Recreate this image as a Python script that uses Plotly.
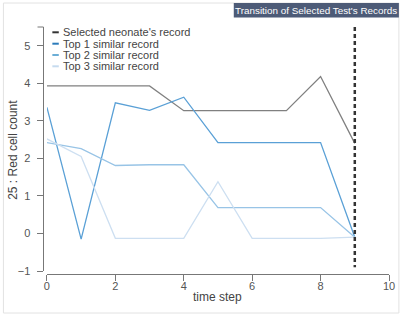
import plotly.graph_objects as go

# ---- data ----
steps = [0, 1, 2, 3, 4, 5, 6, 7, 8, 9]
selected = [3.93, 3.93, 3.93, 3.93, 3.27, 3.27, 3.27, 3.27, 4.18, 2.40]
top1 = [3.36, -0.15, 3.48, 3.28, 3.63, 2.42, 2.42, 2.42, 2.42, -0.10]
top2 = [2.42, 2.26, 1.81, 1.83, 1.83, 0.69, 0.69, 0.69, 0.69, -0.10]
top3 = [2.52, 2.05, -0.13, -0.13, -0.13, 1.38, -0.13, -0.13, -0.13, -0.10]
series_names = ["Selected neonate's record", "Top 1 similar record",
                "Top 2 similar record", "Top 3 similar record"]
selected_step = 9
x_ticks = [0, 2, 4, 6, 8, 10]
y_ticks = [-1, 0, 1, 2, 3, 4, 5]
title_text = "Transition of Selected Test's Records"
x_title = "time step"
y_title = "25 : Red cell count"

# ---- styling ----
W, H = 407, 318
ML, MR, MT, MB = 40, 14, 27, 41
PW, PH = W - ML - MR, H - MT - MB
FONT = "Liberation Sans, Arial, sans-serif"

def px_x(p):
    return (p - ML) / PW

def px_y(p):
    return (H - MB - p) / PH

line_colors = ["#808080", "#5aa0d6", "#98c4e6", "#cddff1"]
legend_colors = ["#333333", "#2b7bba", "#6baed6", "#c6dbef"]

fig = go.Figure()
for name, vals, col in zip(series_names, [selected, top1, top2, top3], line_colors):
    fig.add_trace(go.Scatter(x=steps, y=vals, mode="lines", name=name,
                             line=dict(color=col, width=1.3), hoverinfo="skip"))

fig.add_trace(go.Scatter(x=[selected_step, selected_step], y=[5.5, -0.9], mode="lines",
                         line=dict(color="#333333", width=2.5, dash="4px,3px"),
                         hoverinfo="skip", showlegend=False))

axis_common = dict(showgrid=False, zeroline=False, showline=True, linecolor="#777",
                   linewidth=1, ticks="outside", ticklen=6, tickcolor="#777",
                   tickfont=dict(family=FONT, size=11, color="#555"))

fig.update_layout(
    width=W, height=H,
    margin=dict(l=ML, r=MR, t=MT, b=MB, pad=0),
    paper_bgcolor="white", plot_bgcolor="white",
    showlegend=False,
    xaxis=dict(range=[0, 10], tickvals=x_ticks, domain=[px_x(47), 1],
               anchor="free", position=px_y(274), ticklabelstandoff=-4, **axis_common),
    yaxis=dict(range=[-1, 5.5], tickvals=y_ticks, domain=[px_y(271), 1],
               anchor="free", position=px_x(43.5), ticklabelstandoff=5, **axis_common),
)

shapes = [
    # outer border
    dict(type="rect", xref="paper", yref="paper", x0=px_x(3), x1=px_x(403),
         y0=px_y(3), y1=px_y(313), line=dict(color="#e2e2e2", width=1), layer="below"),
    # title box
    dict(type="rect", xref="paper", yref="paper", x0=px_x(236), x1=px_x(403),
         y0=px_y(3), y1=px_y(17.5), line=dict(width=0), fillcolor="#4d5b77"),
    # y axis top end tick
    dict(type="line", xref="paper", yref="paper", x0=px_x(37.5), x1=px_x(43.5),
         y0=px_y(27), y1=px_y(27), line=dict(color="#777", width=1)),
]

annotations = [
    dict(text=title_text, xref="paper", yref="paper", x=px_x(319.5), y=px_y(10.5),
         showarrow=False, font=dict(family=FONT, size=9.9, color="white"),
         xanchor="center", yanchor="middle"),
    dict(text=x_title, xref="paper", yref="paper", x=px_x(220), y=px_y(297),
         showarrow=False, font=dict(family=FONT, size=12, color="#444"),
         xanchor="center", yanchor="middle"),
    dict(text=y_title, xref="paper", yref="paper", x=px_x(12.5), y=px_y(150),
         showarrow=False, textangle=-90, font=dict(family=FONT, size=12, color="#444"),
         xanchor="center", yanchor="middle"),
]

row_y = [32.3, 43.7, 55.0, 66.3]
for name, col, ry in zip(series_names, legend_colors, row_y):
    shapes.append(dict(type="line", xref="paper", yref="paper", x0=px_x(52.5), x1=px_x(59),
                       y0=px_y(ry), y1=px_y(ry), line=dict(color=col, width=2)))
    annotations.append(dict(text=name, xref="paper", yref="paper", x=px_x(61.5), y=px_y(ry),
                            showarrow=False, xanchor="left", yanchor="middle",
                            font=dict(family=FONT, size=11, color="#444")))

fig.update_layout(shapes=shapes, annotations=annotations)
fig.write_html("out.html", config={"displayModeBar": False},
               post_script="document.body.style.margin='0';document.body.style.overflow='hidden';")
